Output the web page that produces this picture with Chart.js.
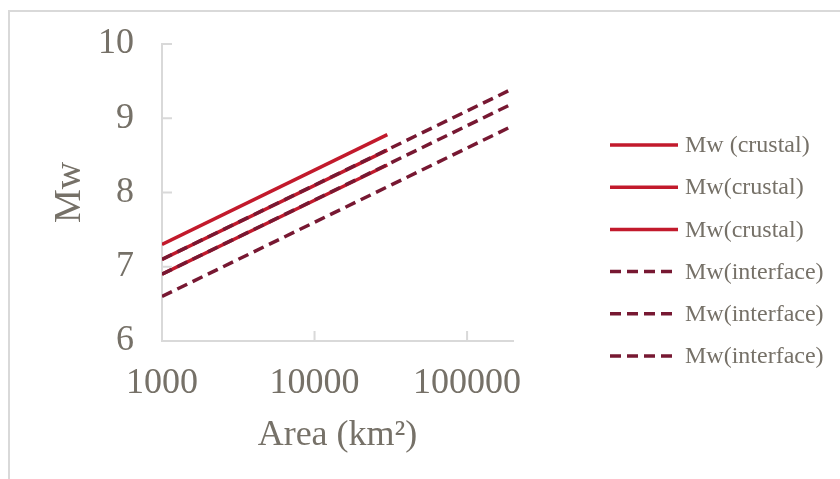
<!DOCTYPE html>
<html>
<head>
<meta charset="utf-8">
<script src="https://cdn.jsdelivr.net/npm/chart.js@4.4.1/dist/chart.umd.min.js"></script>
<style>
  html, body { margin: 0; padding: 0; background: #fff; }
  #wrap { position: relative; width: 840px; height: 479px; overflow: hidden; }
  #frame { position: absolute; left: 8px; top: 10px; width: 900px; height: 600px;
           border-top: 2px solid #d9d9d9; border-left: 2px solid #d9d9d9; pointer-events: none; }
</style>
</head>
<body>
<div id="wrap">
  <canvas id="myChart" width="840" height="479"></canvas>
  <div id="frame"></div>
</div>
<script>
// Area values (km2) at the ends of each line
const crustalArea = [1000, 30000];
const interfaceArea = [1000, 200000];

// Mw values
const crustal1 = [7.3, 8.78];
const crustal2 = [7.1, 8.57];
const crustal3 = [6.9, 8.37];
const interface1 = [7.1, 9.4];
const interface2 = [6.9, 9.2];
const interface3 = [6.6, 8.9];

const labels = ['Mw (crustal)', 'Mw(crustal)', 'Mw(crustal)',
  'Mw(interface)', 'Mw(interface)', 'Mw(interface)'];
const xTicks = [1000, 10000, 100000];

const red = '#c21a2c';
const dark = '#771832';
const textColor = '#767168';
const axisColor = '#d9d9d9';
const serif = '"Liberation Serif", "Times New Roman", serif';

function pts(xs, ys) {
  return xs.map((x, i) => ({ x: x, y: ys[i] }));
}

function crustalSet(label, ys) {
  return { label: label, data: pts(crustalArea, ys), borderColor: red,
    borderWidth: 3.5, pointRadius: 0, order: 2 };
}
function interfaceSet(label, ys) {
  return { label: label, data: pts(interfaceArea, ys), borderColor: dark,
    borderWidth: 3.5, borderDash: [11, 6], pointRadius: 0, order: 1 };
}

const data = {
  datasets: [
    crustalSet(labels[0], crustal1),
    crustalSet(labels[1], crustal2),
    crustalSet(labels[2], crustal3),
    interfaceSet(labels[3], interface1),
    interfaceSet(labels[4], interface2),
    interfaceSet(labels[5], interface3)
  ]
};

// small tick marks drawn inside the plot, like the original
const innerTicks = {
  id: 'innerTicks',
  afterDraw(chart) {
    const ctx = chart.ctx;
    const xs = chart.scales.x, ys = chart.scales.y;
    ctx.save();
    ctx.strokeStyle = axisColor;
    ctx.lineWidth = 2;
    ctx.beginPath();
    [7, 8, 9, 10].forEach(v => {
      const p = ys.getPixelForValue(v);
      ctx.moveTo(xs.left, p); ctx.lineTo(xs.left + 10, p);
    });
    [10000, 100000].forEach(v => {
      const p = xs.getPixelForValue(v);
      ctx.moveTo(p, ys.bottom); ctx.lineTo(p, ys.bottom - 10);
    });
    ctx.stroke();
    ctx.restore();
  }
};

// legend on the right
const sideLegend = {
  id: 'sideLegend',
  afterDraw(chart) {
    const ctx = chart.ctx;
    const x0 = 610, y0 = 145, gap = 42.2;
    ctx.save();
    ctx.font = '24px ' + serif;
    ctx.textBaseline = 'middle';
    ctx.fillStyle = textColor;
    chart.data.datasets.forEach((ds, i) => {
      const y = y0 + i * gap;
      ctx.strokeStyle = ds.borderColor;
      ctx.lineWidth = 3.5;
      ctx.setLineDash(ds.borderDash || []);
      ctx.beginPath();
      ctx.moveTo(x0, y); ctx.lineTo(x0 + 68, y);
      ctx.stroke();
      ctx.fillText(ds.label, x0 + 75, y + 1);
    });
    ctx.restore();
  }
};

const options = {
  responsive: false,
  animation: false,
  layout: { padding: { left: 0, top: 44, right: 327, bottom: 0 } },
  plugins: { legend: { display: false }, tooltip: { enabled: false } },
  scales: {
    x: {
      type: 'logarithmic',
      min: 1000,
      max: 200000,
      afterBuildTicks: s => { s.ticks = xTicks.map(v => ({ value: v })); },
      afterFit: s => { s.height = 138; },
      grid: { drawOnChartArea: false, drawTicks: false },
      border: { color: axisColor, width: 2 },
      ticks: { color: textColor, font: { family: serif, size: 36 }, padding: 21,
        maxRotation: 0, autoSkip: false, callback: v => String(v) },
      title: { display: true, text: 'Area (km²)', color: textColor,
        font: { family: serif, size: 36 }, padding: { bottom: 22 } }
    },
    y: {
      min: 6,
      max: 10,
      afterFit: s => { s.width = 162; s.paddingTop = 0; s.paddingBottom = 0; },
      grid: { drawOnChartArea: false, drawTicks: false },
      border: { color: axisColor, width: 2 },
      ticks: { stepSize: 1, color: textColor, font: { family: serif, size: 36 }, padding: 28 },
      title: { display: true, text: 'Mw', color: textColor,
        font: { family: serif, size: 38 }, padding: { top: 47 } }
    }
  }
};

const ctx = document.getElementById('myChart').getContext('2d');
const myChart = new Chart(ctx, {
  type: 'line',
  data: data,
  options: options,
  plugins: [innerTicks, sideLegend]
});
</script>
</body>
</html>
